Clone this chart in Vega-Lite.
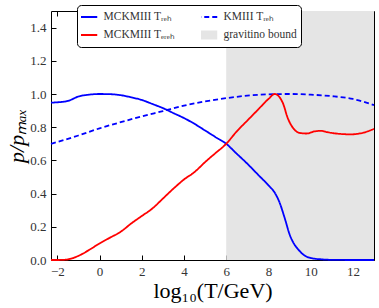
{
  "$schema": "https://vega.github.io/schema/vega-lite/v6.json",
  "width": 323,
  "height": 249,
  "autosize": {"type": "none"},
  "padding": {"left": 51, "top": 11, "right": 5, "bottom": 48},
  "config": {
    "view": {"stroke": null},
    "font": "Liberation Serif",
    "axis": {
      "domainColor": "black", "domainWidth": 1, "tickColor": "black", "tickSize": -5, "tickWidth": 1,
      "labelFont": "Liberation Serif", "labelFontSize": 13, "labelColor": "#333333",
      "titleFont": "Liberation Serif", "titleFontSize": 22, "titleColor": "black", "titleFontWeight": "normal",
      "grid": false, "zindex": 1
    },
    "legend": {
      "orient": "none", "legendX": 26, "legendY": -6, "columns": 2, "columnPadding": 26, "rowPadding": 2,
      "title": null, "fillColor": "white", "strokeColor": "black", "cornerRadius": 4, "padding": 4,
      "symbolType": "stroke", "symbolSize": 441, "symbolStrokeWidth": 2, "clipHeight": 16,
      "labelFont": "Liberation Serif", "labelFontSize": 11.5, "labelColor": "#333333", "labelOffset": 11
    }
  },
  "datasets": {
    "band": [{"x0": 6, "x1": 13}],
    "curves": [
      {"x": -2.3, "p": 0.948, "series": "MCKMIII Tᵣₑₕ"},
      {"x": -2, "p": 0.95, "series": "MCKMIII Tᵣₑₕ"},
      {"x": -1.5, "p": 0.958, "series": "MCKMIII Tᵣₑₕ"},
      {"x": -1, "p": 0.985, "series": "MCKMIII Tᵣₑₕ"},
      {"x": -0.5, "p": 0.996, "series": "MCKMIII Tᵣₑₕ"},
      {"x": 0, "p": 1.0, "series": "MCKMIII Tᵣₑₕ"},
      {"x": 0.5, "p": 0.999, "series": "MCKMIII Tᵣₑₕ"},
      {"x": 1, "p": 0.993, "series": "MCKMIII Tᵣₑₕ"},
      {"x": 1.5, "p": 0.98, "series": "MCKMIII Tᵣₑₕ"},
      {"x": 2, "p": 0.964, "series": "MCKMIII Tᵣₑₕ"},
      {"x": 2.5, "p": 0.94, "series": "MCKMIII Tᵣₑₕ"},
      {"x": 3, "p": 0.915, "series": "MCKMIII Tᵣₑₕ"},
      {"x": 3.5, "p": 0.885, "series": "MCKMIII Tᵣₑₕ"},
      {"x": 4, "p": 0.855, "series": "MCKMIII Tᵣₑₕ"},
      {"x": 4.5, "p": 0.82, "series": "MCKMIII Tᵣₑₕ"},
      {"x": 5, "p": 0.78, "series": "MCKMIII Tᵣₑₕ"},
      {"x": 5.5, "p": 0.74, "series": "MCKMIII Tᵣₑₕ"},
      {"x": 6, "p": 0.70, "series": "MCKMIII Tᵣₑₕ"},
      {"x": 6.5, "p": 0.64, "series": "MCKMIII Tᵣₑₕ"},
      {"x": 7, "p": 0.58, "series": "MCKMIII Tᵣₑₕ"},
      {"x": 7.5, "p": 0.515, "series": "MCKMIII Tᵣₑₕ"},
      {"x": 8, "p": 0.45, "series": "MCKMIII Tᵣₑₕ"},
      {"x": 8.3, "p": 0.405, "series": "MCKMIII Tᵣₑₕ"},
      {"x": 8.5, "p": 0.355, "series": "MCKMIII Tᵣₑₕ"},
      {"x": 8.8, "p": 0.24, "series": "MCKMIII Tᵣₑₕ"},
      {"x": 9, "p": 0.155, "series": "MCKMIII Tᵣₑₕ"},
      {"x": 9.2, "p": 0.10, "series": "MCKMIII Tᵣₑₕ"},
      {"x": 9.4, "p": 0.065, "series": "MCKMIII Tᵣₑₕ"},
      {"x": 9.7, "p": 0.028, "series": "MCKMIII Tᵣₑₕ"},
      {"x": 10, "p": 0.012, "series": "MCKMIII Tᵣₑₕ"},
      {"x": 10.5, "p": 0.004, "series": "MCKMIII Tᵣₑₕ"},
      {"x": 11, "p": 0.001, "series": "MCKMIII Tᵣₑₕ"},
      {"x": 12, "p": 0, "series": "MCKMIII Tᵣₑₕ"},
      {"x": 13, "p": 0, "series": "MCKMIII Tᵣₑₕ"},
      {"x": -2.3, "p": 0.70, "series": "KMIII Tᵣₑₕ"},
      {"x": -1, "p": 0.75, "series": "KMIII Tᵣₑₕ"},
      {"x": 0, "p": 0.793, "series": "KMIII Tᵣₑₕ"},
      {"x": 1, "p": 0.83, "series": "KMIII Tᵣₑₕ"},
      {"x": 2, "p": 0.865, "series": "KMIII Tᵣₑₕ"},
      {"x": 3, "p": 0.897, "series": "KMIII Tᵣₑₕ"},
      {"x": 4, "p": 0.93, "series": "KMIII Tᵣₑₕ"},
      {"x": 5, "p": 0.955, "series": "KMIII Tᵣₑₕ"},
      {"x": 6, "p": 0.975, "series": "KMIII Tᵣₑₕ"},
      {"x": 7, "p": 0.99, "series": "KMIII Tᵣₑₕ"},
      {"x": 8, "p": 0.998, "series": "KMIII Tᵣₑₕ"},
      {"x": 9, "p": 1.0, "series": "KMIII Tᵣₑₕ"},
      {"x": 10, "p": 0.996, "series": "KMIII Tᵣₑₕ"},
      {"x": 11, "p": 0.987, "series": "KMIII Tᵣₑₕ"},
      {"x": 12, "p": 0.97, "series": "KMIII Tᵣₑₕ"},
      {"x": 13, "p": 0.933, "series": "KMIII Tᵣₑₕ"},
      {"x": -2.3, "p": 0, "series": "MCKMIII Tₑᵣₑₕ"},
      {"x": -2, "p": 0, "series": "MCKMIII Tₑᵣₑₕ"},
      {"x": -1.6, "p": 0.002, "series": "MCKMIII Tₑᵣₑₕ"},
      {"x": -1.3, "p": 0.01, "series": "MCKMIII Tₑᵣₑₕ"},
      {"x": -1, "p": 0.025, "series": "MCKMIII Tₑᵣₑₕ"},
      {"x": -0.5, "p": 0.06, "series": "MCKMIII Tₑᵣₑₕ"},
      {"x": 0, "p": 0.10, "series": "MCKMIII Tₑᵣₑₕ"},
      {"x": 0.5, "p": 0.135, "series": "MCKMIII Tₑᵣₑₕ"},
      {"x": 1, "p": 0.17, "series": "MCKMIII Tₑᵣₑₕ"},
      {"x": 1.5, "p": 0.22, "series": "MCKMIII Tₑᵣₑₕ"},
      {"x": 2, "p": 0.265, "series": "MCKMIII Tₑᵣₑₕ"},
      {"x": 2.5, "p": 0.31, "series": "MCKMIII Tₑᵣₑₕ"},
      {"x": 3, "p": 0.37, "series": "MCKMIII Tₑᵣₑₕ"},
      {"x": 3.5, "p": 0.43, "series": "MCKMIII Tₑᵣₑₕ"},
      {"x": 4, "p": 0.485, "series": "MCKMIII Tₑᵣₑₕ"},
      {"x": 4.5, "p": 0.53, "series": "MCKMIII Tₑᵣₑₕ"},
      {"x": 5, "p": 0.59, "series": "MCKMIII Tₑᵣₑₕ"},
      {"x": 5.5, "p": 0.645, "series": "MCKMIII Tₑᵣₑₕ"},
      {"x": 6, "p": 0.70, "series": "MCKMIII Tₑᵣₑₕ"},
      {"x": 6.5, "p": 0.775, "series": "MCKMIII Tₑᵣₑₕ"},
      {"x": 7, "p": 0.84, "series": "MCKMIII Tₑᵣₑₕ"},
      {"x": 7.5, "p": 0.905, "series": "MCKMIII Tₑᵣₑₕ"},
      {"x": 8, "p": 0.97, "series": "MCKMIII Tₑᵣₑₕ"},
      {"x": 8.3, "p": 1.0, "series": "MCKMIII Tₑᵣₑₕ"},
      {"x": 8.5, "p": 0.985, "series": "MCKMIII Tₑᵣₑₕ"},
      {"x": 8.7, "p": 0.94, "series": "MCKMIII Tₑᵣₑₕ"},
      {"x": 8.9, "p": 0.86, "series": "MCKMIII Tₑᵣₑₕ"},
      {"x": 9.2, "p": 0.79, "series": "MCKMIII Tₑᵣₑₕ"},
      {"x": 9.5, "p": 0.765, "series": "MCKMIII Tₑᵣₑₕ"},
      {"x": 9.8, "p": 0.762, "series": "MCKMIII Tₑᵣₑₕ"},
      {"x": 10.2, "p": 0.775, "series": "MCKMIII Tₑᵣₑₕ"},
      {"x": 10.5, "p": 0.778, "series": "MCKMIII Tₑᵣₑₕ"},
      {"x": 10.8, "p": 0.77, "series": "MCKMIII Tₑᵣₑₕ"},
      {"x": 11.2, "p": 0.762, "series": "MCKMIII Tₑᵣₑₕ"},
      {"x": 11.9, "p": 0.757, "series": "MCKMIII Tₑᵣₑₕ"},
      {"x": 12.5, "p": 0.767, "series": "MCKMIII Tₑᵣₑₕ"},
      {"x": 13, "p": 0.79, "series": "MCKMIII Tₑᵣₑₕ"}
    ]
  },
  "resolve": {"axis": {"x": "independent", "y": "independent"}},
  "layer": [
    {
      "data": {"name": "band"},
      "mark": {"type": "rect", "fill": "#e5e5e5", "stroke": null},
      "encoding": {
        "x": {"field": "x0", "type": "quantitative", "scale": {"domain": [-2.3, 13], "nice": false},
              "axis": {"orient": "bottom", "values": [-2, 0, 2, 4, 6, 8, 10, 12], "title": "log₁₀(T/GeV)", "titlePadding": 2, "labelPadding": 10}},
        "x2": {"field": "x1"},
        "y": {"datum": 0, "type": "quantitative", "scale": {"domain": [0, 1.5], "nice": false},
              "axis": {"orient": "left", "values": [0, 0.2, 0.4, 0.6, 0.8, 1.0, 1.2, 1.4], "format": ".1f", "title": "p/pₘₐₓ", "titleFontStyle": "italic", "titlePadding": 1, "labelPadding": 10}},
        "y2": {"datum": 1.5}
      }
    },
    {
      "data": {"name": "curves"},
      "mark": {"type": "line", "interpolate": "monotone", "strokeWidth": 1.8},
      "encoding": {
        "x": {"field": "x", "type": "quantitative",
              "axis": {"orient": "top", "values": [-2, 0, 2, 4, 6, 8, 10, 12], "labels": false, "title": null}},
        "y": {"field": "p", "type": "quantitative",
              "axis": {"orient": "right", "values": [0, 0.2, 0.4, 0.6, 0.8, 1.0, 1.2, 1.4], "labels": false, "title": null}},
        "color": {
          "field": "series", "type": "nominal",
          "scale": {"domain": ["MCKMIII Tᵣₑₕ", "MCKMIII Tₑᵣₑₕ", "KMIII Tᵣₑₕ", "gravitino bound"],
                    "range": ["#0000ff", "#ff0000", "#0000ff", "#e5e5e5"]},
          "legend": {
            "encode": {"symbols": {"update": {"strokeWidth": {"signal": "datum.value === 'gravitino bound' ? 9 : 2"}}}}
          }
        },
        "strokeDash": {
          "field": "series", "type": "nominal",
          "scale": {"domain": ["MCKMIII Tᵣₑₕ", "MCKMIII Tₑᵣₑₕ", "KMIII Tᵣₑₕ", "gravitino bound"],
                    "range": [[1, 0], [1, 0], [5, 3], [1, 0]]},
          "legend": {
            "encode": {"symbols": {"update": {"strokeWidth": {"signal": "datum.value === 'gravitino bound' ? 9 : 2"}}}}
          }
        }
      }
    }
  ]
}
